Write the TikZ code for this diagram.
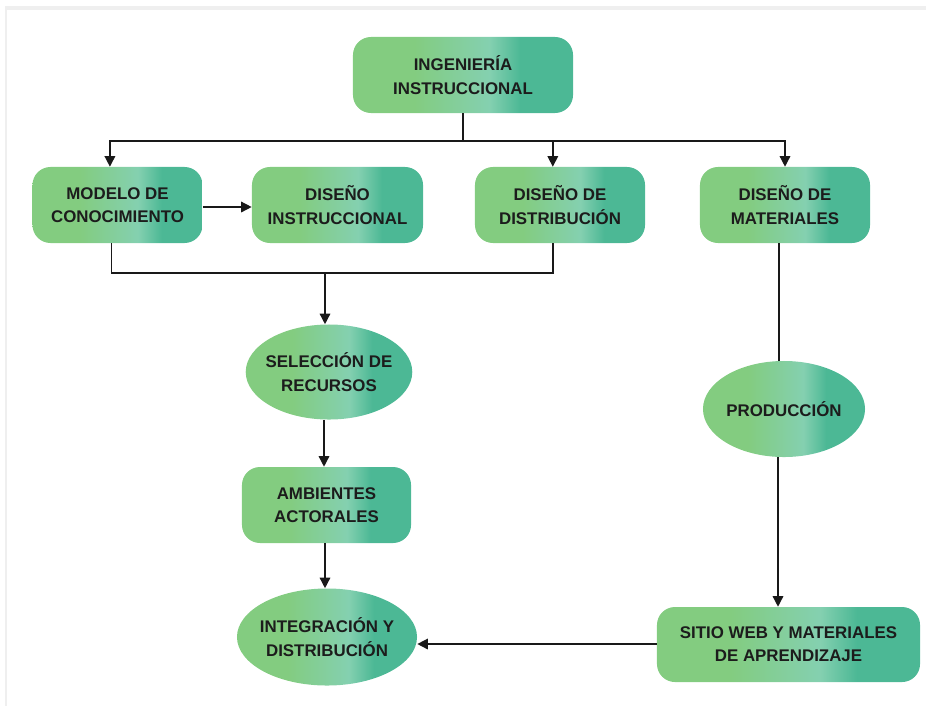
\documentclass[tikz,border=0pt]{standalone}
\usepackage{fontspec}
\setmainfont{Liberation Sans}
\usetikzlibrary{shapes.geometric,arrows.meta}

\definecolor{verdeA}{HTML}{83CC80}
\definecolor{verdeB}{HTML}{84D0B0}
\definecolor{verdeC}{HTML}{4CB895}
\definecolor{marco}{HTML}{EFEFEF}
\definecolor{texto}{HTML}{1C1C1C}
\pgfdeclarehorizontalshading{verdes}{100bp}{color(0bp)=(verdeA); color(25bp)=(verdeA); color(39bp)=(verdeA); color(56bp)=(verdeB); color(63bp)=(verdeC); color(75bp)=(verdeC); color(100bp)=(verdeC)}

\tikzset{
  caja/.style={rectangle, rounded corners=0.45cm, shading=verdes, align=center,
    minimum height=1.9cm, inner sep=0pt, text=texto,
    font=\bfseries\fontsize{12}{16.5}\selectfont},
  elipse/.style={ellipse, shading=verdes, align=center, inner sep=0pt, inner xsep=-0.11cm,
    text=texto, font=\bfseries\fontsize{12}{16.5}\selectfont},
  linea/.style={line width=1pt, draw=black!90},
  flecha/.style={linea, -{Triangle[length=7.5pt,width=7.5pt]}}
}

\begin{document}
\begin{tikzpicture}[x=0.025cm,y=-0.025cm]
  \useasboundingbox (0,0) rectangle (926,706);
  \fill[marco] (5,6) rectangle (926,10);
  \fill[marco] (5,6) rectangle (7,706);

  % cajas
  \node[caja, minimum width=5.5cm] (ingenieria) at (463,75) {INGENIERÍA\\INSTRUCCIONAL};
  \node[caja, minimum width=4.25cm] (modelo) at (117.5,205) {MODELO DE\\CONOCIMIENTO};
  \node[caja, minimum width=4.275cm] (disenoinst) at (337.5,205) {DISEÑO\\INSTRUCCIONAL};
  \node[caja, minimum width=4.25cm] (disenodist) at (560,205) {DISEÑO DE\\DISTRIBUCIÓN};
  \node[caja, minimum width=4.25cm] (disenomat) at (785,205) {DISEÑO DE\\MATERIALES};
  \node[elipse, minimum width=4.1cm, minimum height=2.375cm] (seleccion) at (329,372) {SELECCIÓN DE\\RECURSOS};
  \node[caja, minimum width=4.225cm] (ambientes) at (326.5,505) {AMBIENTES\\ACTORALES};
  \node[elipse, minimum width=4.5cm, minimum height=2.425cm] (integracion) at (327,637) {INTEGRACIÓN Y\\DISTRIBUCIÓN};
  \node[elipse, minimum width=4.05cm, minimum height=2.4cm] (produccion) at (784,409) {PRODUCCIÓN};
  \node[caja, minimum width=6.575cm, minimum height=1.875cm] (sitioweb) at (788.5,644.5) {SITIO WEB Y MATERIALES\\DE APRENDIZAJE};

  % conectores
  \coordinate (reparto) at (463,141);
  \coordinate (union) at (325,273);
  \draw[linea] (ingenieria.south) -- (reparto);
  \draw[flecha] (reparto) -| ([xshift=-0.19cm]modelo.north);
  \draw[flecha] (reparto) -| ([xshift=-0.18cm]disenodist.north);
  \draw[flecha] (reparto) -| (disenomat.north);
  \draw[flecha] (modelo.east |- 0,207) -- (disenoinst.west |- 0,207);
  \draw[linea] ([xshift=-0.15cm]modelo.south) |- (union) -| ([xshift=-0.18cm]disenodist.south);
  \draw[flecha] (union) -- (union |- seleccion.north);
  \draw[flecha] (seleccion.south -| 324,0) -- (ambientes.north -| 324,0);
  \draw[flecha] (ambientes.south -| 325,0) -- (integracion.north -| 325,0);
  \draw[linea] ([xshift=-0.15cm]disenomat.south) -- ([xshift=-0.15cm]disenomat.south |- produccion.north);
  \draw[flecha] (produccion.south -| 778,0) -- (sitioweb.north -| 778,0);
  \draw[flecha] (sitioweb.west |- 0,644) -- (integracion.east |- 0,644);
\end{tikzpicture}
\end{document}
